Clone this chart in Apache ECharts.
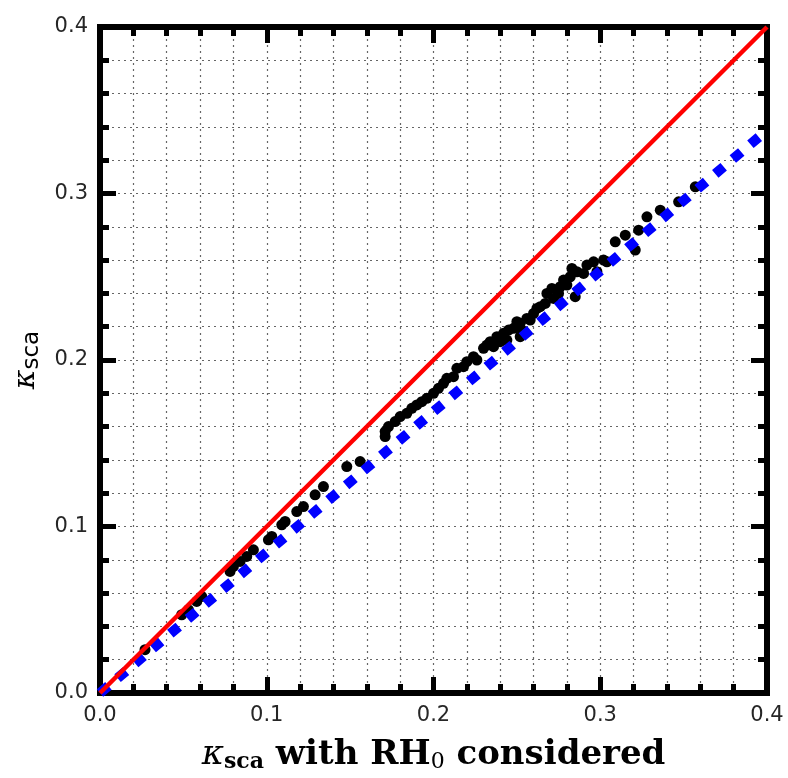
<!DOCTYPE html>
<html>
<head>
<meta charset="utf-8">
<script src="https://cdn.jsdelivr.net/npm/echarts@6/dist/echarts.min.js"></script>
<style>
html,body{margin:0;padding:0;background:#fff;}
#chart{width:788px;height:778px;}
</style>
</head>
<body>
<div id="chart"></div>
<script>
// ---- data ----
var points = [
  [0.027,0.026],[0.049,0.047],[0.053,0.050],[0.058,0.055],[0.061,0.058],
  [0.078,0.073],[0.080,0.076],[0.084,0.079],[0.088,0.082],[0.092,0.086],
  [0.101,0.092],[0.103,0.094],[0.109,0.101],[0.111,0.103],[0.118,0.109],
  [0.122,0.112],[0.129,0.119],[0.134,0.124],[0.148,0.136],[0.156,0.139],
  [0.171,0.154],[0.171,0.157],[0.173,0.160],[0.177,0.163],[0.180,0.166],
  [0.184,0.168],[0.187,0.171],[0.190,0.173],[0.193,0.175],[0.196,0.177],
  [0.200,0.180],[0.203,0.183],[0.206,0.186],[0.208,0.189],[0.212,0.190],
  [0.214,0.195],[0.218,0.196],[0.220,0.199],[0.224,0.202],[0.226,0.200],
  [0.230,0.207],[0.232,0.209],[0.234,0.211],[0.236,0.208],[0.238,0.214],
  [0.240,0.211],[0.242,0.216],[0.244,0.212],[0.245,0.218],[0.248,0.219],
  [0.250,0.223],[0.252,0.222],[0.252,0.214],[0.253,0.218],[0.256,0.225],
  [0.258,0.224],[0.260,0.228],[0.262,0.231],[0.264,0.232],[0.267,0.234],
  [0.268,0.240],[0.271,0.243],[0.272,0.237],[0.275,0.240],[0.276,0.244],
  [0.278,0.248],[0.280,0.245],[0.282,0.250],[0.283,0.255],[0.285,0.238],
  [0.286,0.253],[0.290,0.252],[0.292,0.257],[0.296,0.259],[0.298,0.253],
  [0.302,0.260],[0.304,0.259],[0.309,0.271],[0.315,0.275],[0.321,0.266],
  [0.323,0.278],[0.328,0.286],[0.336,0.290],[0.347,0.295],[0.357,0.304]
];
var oneToOneX = [0, 0.4];
var oneToOneY = [0, 0.4];
var fitX = [0, 0.4];
var fitY = [0, 0.338];
var tickValues = [0.0, 0.1, 0.2, 0.3, 0.4];

function pairs(xs, ys){ return xs.map(function(x,i){ return [x, ys[i]]; }); }

var frame = {color:'#000', width:6, cap:'square'};
var grid = {type:[2,4], color:'#666', width:1.2};

function baseAxis(pos, labels){
  return {
    type:'value', min:tickValues[0], max:tickValues[tickValues.length-1], interval:0.1, position:pos,
    axisLine:{show:true, onZero:false, lineStyle:frame},
    axisTick:{show:true, inside:true, length:16, lineStyle:{color:'#000', width:5}},
    minorTick:{show:true, splitNumber:5, length:9, lineStyle:{color:'#000', width:5}},
    splitLine:{show:labels, lineStyle:grid},
    minorSplitLine:{show:labels, lineStyle:grid},
    axisLabel:{show:labels, fontFamily:'DejaVu Sans', fontSize:21, color:'#262626', margin:12,
      formatter:function(v){ return v.toFixed(1); }}
  };
}

var xBottom = baseAxis('bottom', true);
xBottom.name = '{k|κ}{ks|sca}{t| with RH}{z|0}{t| considered}';
xBottom.nameLocation = 'middle';
xBottom.nameGap = 44;
xBottom.nameTextStyle = {rich:{
  k:{fontFamily:'DejaVu Serif', fontStyle:'italic', fontSize:34, color:'#000'},
  ks:{fontFamily:'DejaVu Serif', fontWeight:'bold', fontSize:22, color:'#000', padding:[14,0,0,0]},
  t:{fontFamily:'DejaVu Serif', fontWeight:'bold', fontSize:34, color:'#000'},
  z:{fontFamily:'DejaVu Serif', fontSize:22, color:'#000', padding:[14,0,0,0]}
}};
var xTop = baseAxis('top', false);

var yLeft = baseAxis('left', true);
yLeft.name = '{k|κ}{s|sca}';
yLeft.nameLocation = 'middle';
yLeft.nameRotate = 90;
yLeft.nameGap = 50;
yLeft.nameTextStyle = {rich:{
  k:{fontFamily:'DejaVu Serif', fontStyle:'italic', fontSize:30, color:'#000'},
  s:{fontFamily:'DejaVu Sans', fontSize:23, color:'#000', padding:[12,0,0,0]}
}};
var yRight = baseAxis('right', false);

var chart = echarts.init(document.getElementById('chart'), null, {renderer:'canvas'});
chart.setOption({
  animation:false,
  backgroundColor:'#fff',
  grid:{left:100, right:21, top:27, bottom:83, containLabel:false},
  xAxis:[xBottom, xTop],
  yAxis:[yLeft, yRight],
  series:[
    {type:'scatter', data:points, symbol:'circle', symbolSize:11,
     itemStyle:{color:'#000', opacity:1}, z:2},
    {type:'line', data:pairs(fitX, fitY), symbol:'none',
     lineStyle:{color:'#0000ff', width:10, type:[11,12]}, z:3},
    {type:'line', data:pairs(oneToOneX, oneToOneY), symbol:'none',
     lineStyle:{color:'#ff0000', width:4.5}, z:4}
  ]
});
</script>
</body>
</html>
